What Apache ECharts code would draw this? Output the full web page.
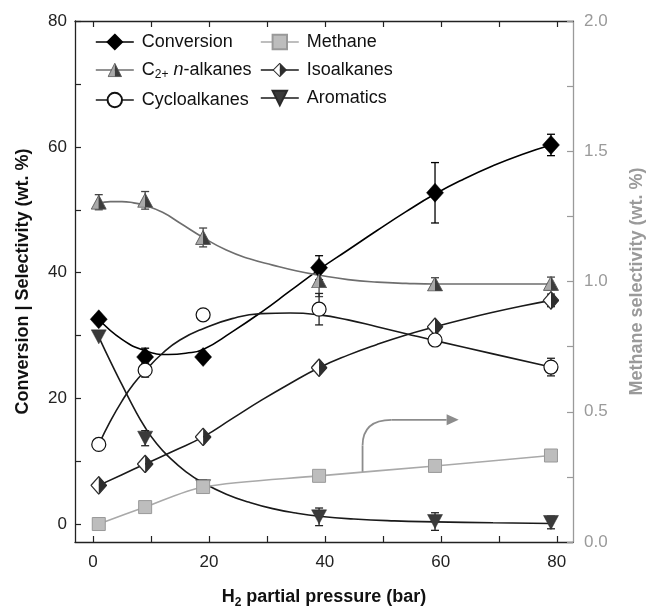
<!DOCTYPE html>
<html>
<head>
<meta charset="utf-8">
<script src="https://cdn.jsdelivr.net/npm/echarts@6/dist/echarts.min.js"></script>
<style>html,body{margin:0;padding:0;background:#fff;}#c{width:654px;height:614px;}</style>
</head>
<body>
<div id="c"></div>
<script>
// ---- data ----
const pressures = [1, 9, 19, 39, 59, 79];
const conversion = [32.6, 26.6, 26.6, 40.8, 52.7, 60.3];
const conversionErr = [0, 1.4, 0, 1.9, 4.8, 1.7];
const nAlkanes = [51.2, 51.5, 45.6, 38.7, 38.2, 38.3];
const nAlkanesErr = [1.2, 1.4, 1.5, 2.5, 1.0, 1.0];
const isoalkanes = [6.2, 9.6, 13.9, 24.9, 31.4, 35.6];
const isoalkanesErr = [0, 0, 0, 0, 0, 1.0];
const cycloalkanes = [12.7, 24.5, 33.3, 34.2, 29.3, 25.0];
const cycloalkanesErr = [0, 1.1, 0, 2.5, 0, 1.4];
const aromatics = [29.8, 13.7, 6.0, 1.2, 0.45, 0.3];
const aromaticsErr = [0, 1.2, 1.0, 1.4, 1.4, 1.0];
const methane = [0.069, 0.134, 0.211, 0.254, 0.292, 0.332];

// fitted guide curves
const conversionFit = [[1,32.6],[5,29.4],[9,27.6],[13,27.0],[16,27.2],[19,27.8],[24,30.6],[29,33.7],[34,37.1],[39,40.5],[44,43.6],[49,46.7],[54,49.7],[59,52.5],[64,54.9],[69,57.0],[74,58.8],[79,60.3]];
const nAlkanesFit = [[1,51.0],[3,51.3],[5,51.3],[7,51.1],[9,50.7],[12,49.6],[15,47.9],[19,45.6],[23,43.6],[27,42.2],[31,41.2],[35,40.3],[39,39.6],[44,38.9],[49,38.5],[54,38.3],[59,38.2],[69,38.2],[79,38.2]];
const isoalkanesFit = [[1,6.2],[5,7.9],[9,9.6],[14,11.7],[19,13.9],[24,16.8],[29,19.7],[34,22.4],[39,24.9],[44,26.9],[49,28.6],[54,30.1],[59,31.4],[64,32.6],[69,33.7],[74,34.7],[79,35.6]];
const cycloalkanesFit = [[1,12.7],[3,16.4],[5,19.6],[7,22.3],[9,24.4],[12,27.2],[15,29.3],[19,31.1],[24,32.7],[29,33.5],[34,33.6],[39,33.3],[44,32.5],[49,31.4],[54,30.3],[59,29.2],[69,27.1],[79,25.0]];
const aromaticsFit = [[1,29.8],[3,25.9],[5,22.2],[7,18.6],[9,15.4],[11,12.8],[13,10.8],[16,8.4],[19,6.6],[23,4.8],[27,3.5],[31,2.5],[35,1.8],[39,1.3],[45,0.85],[52,0.55],[59,0.4],[69,0.25],[79,0.15]];

const xTickValues = [0, 10, 20, 30, 40, 50, 60, 70, 80];
const xLabelValues = [0, 20, 40, 60, 80];
const yTickValues = [0, 10, 20, 30, 40, 50, 60, 70, 80];
const yLabelValues = [0, 20, 40, 60, 80];
const y2TickValues = [0, 0.25, 0.5, 0.75, 1.0, 1.25, 1.5, 1.75, 2.0];
const y2LabelValues = [0, 0.5, 1.0, 1.5, 2.0];

// ---- styling ----
const FONT = '"Liberation Sans", Arial, sans-serif';
const svgUri = s => 'image://data:image/svg+xml;charset=utf-8,' + encodeURIComponent(s);
const triHalf = svgUri('<svg xmlns="http://www.w3.org/2000/svg" width="32" height="30" viewBox="0 0 32 30"><polygon points="16,1 1,29 16,29" fill="#a9a9a9"/><polygon points="16,1 31,29 16,29" fill="#3c3c3c"/><polygon points="16,1 1,29 31,29" fill="none" stroke="#555" stroke-width="1.8"/></svg>');
const diaHalf = svgUri('<svg xmlns="http://www.w3.org/2000/svg" width="34" height="38" viewBox="0 0 34 38"><polygon points="17,1.5 1.5,19 17,36.5" fill="#fff"/><polygon points="17,1.5 32.5,19 17,36.5" fill="#2e2e2e"/><polygon points="17,1.5 1.5,19 17,36.5 32.5,19" fill="none" stroke="#2e2e2e" stroke-width="2.6"/></svg>');

const pts = arr => pressures.map((x, i) => [x, arr[i]]);
const errData = (vals, errs) => pressures.map((x, i) => [x, vals[i] - errs[i], vals[i] + errs[i], errs[i]]).filter(d => d[3] > 0);

function errSeries(name, vals, errs, color) {
  return {
    name: name, type: 'custom', xAxisIndex: 0, yAxisIndex: 0, z: 3, silent: true,
    data: errData(vals, errs),
    renderItem: function (params, api) {
      const x = api.value(0), lo = api.value(1), hi = api.value(2);
      const a = api.coord([x, hi]), b = api.coord([x, lo]);
      const w = 4;
      const st = { stroke: color, lineWidth: 1.3 };
      return { type: 'group', children: [
        { type: 'line', shape: { x1: a[0], y1: a[1], x2: b[0], y2: b[1] }, style: st },
        { type: 'line', shape: { x1: a[0] - w, y1: a[1], x2: a[0] + w, y2: a[1] }, style: st },
        { type: 'line', shape: { x1: b[0] - w, y1: b[1], x2: b[0] + w, y2: b[1] }, style: st }
      ] };
    }
  };
}
function fitSeries(name, data, color, yIdx) {
  return { name: name, type: 'line', xAxisIndex: 0, yAxisIndex: yIdx || 0, data: data, smooth: 0.5,
    showSymbol: false, symbol: 'none', silent: true, z: 2,
    lineStyle: { color: color, width: 1.6 } };
}
function markSeries(name, data, symbol, size, itemStyle, yIdx, rotate, z) {
  return { name: name, type: 'line', xAxisIndex: 0, yAxisIndex: yIdx || 0, data: data,
    symbol: symbol, symbolSize: size, symbolRotate: rotate || 0, showSymbol: true, z: z || 5,
    lineStyle: { width: 0, opacity: 0 }, itemStyle: itemStyle, emphasis: { disabled: true } };
}

const chart = echarts.init(document.getElementById('c'));
const legendText = {
  fontFamily: FONT, fontSize: 18, color: '#111', padding: [0, 0, 0, 3],
  rich: {
    a: { fontFamily: FONT, fontSize: 18, color: '#111', lineHeight: 22, verticalAlign: 'middle' },
    s: { fontFamily: FONT, fontSize: 12, color: '#111', lineHeight: 22, verticalAlign: 'bottom' },
    i: { fontFamily: FONT, fontSize: 18, fontStyle: 'italic', color: '#111', lineHeight: 22, verticalAlign: 'middle' }
  }
};
const legendFmt = n => n === 'C2+ n-alkanes' ? '{a|C}{s|2+}{a| }{i|n}{a|-alkanes}' : '{a|' + n + '}';

chart.setOption({
  animation: false,
  backgroundColor: '#fff',
  grid: { left: 75, right: 74, top: 21, bottom: 63 },
  legend: [
    { orient: 'vertical', left: 95, top: 33, padding: 0, itemWidth: 38, itemHeight: 18, itemGap: 10,
      formatter: legendFmt, textStyle: legendText, selectedMode: false,
      data: [
        { name: 'Conversion', lineStyle: { color: '#000', width: 1.6, opacity: 1 } },
        { name: 'C2+ n-alkanes', lineStyle: { color: '#6e6e6e', width: 1.6, opacity: 1 } },
        { name: 'Cycloalkanes', lineStyle: { color: '#1a1a1a', width: 1.6, opacity: 1 } }
      ] },
    { orient: 'vertical', left: 260, top: 33, padding: 0, itemWidth: 38, itemHeight: 18, itemGap: 10,
      formatter: legendFmt, textStyle: legendText, selectedMode: false,
      data: [
        { name: 'Methane', lineStyle: { color: '#a9a9a9', width: 1.6, opacity: 1 } },
        { name: 'Isoalkanes', lineStyle: { color: '#1a1a1a', width: 1.6, opacity: 1 } },
        { name: 'Aromatics', lineStyle: { color: '#1a1a1a', width: 1.6, opacity: 1 } }
      ] }
  ],
  xAxis: [
    { type: 'value', position: 'bottom', min: -3.1, max: 82.8,
      axisLine: { show: true, onZero: false, lineStyle: { color: '#222', width: 1.3 } },
      axisTick: { show: true, inside: true, length: 6, customValues: xTickValues, lineStyle: { color: '#222', width: 1.2 } },
      axisLabel: { customValues: xLabelValues, fontFamily: FONT, fontSize: 17, color: '#222', margin: 12 },
      splitLine: { show: false },
      name: '{b|H}{s|2}{b| partial pressure (bar)}', nameLocation: 'middle', nameGap: 43,
      nameTextStyle: { rich: {
        b: { fontFamily: FONT, fontSize: 18, fontWeight: 'bold', color: '#111', lineHeight: 24, verticalAlign: 'middle' },
        s: { fontFamily: FONT, fontSize: 12, fontWeight: 'bold', color: '#111', lineHeight: 24, verticalAlign: 'bottom' } } } },
    { type: 'value', position: 'top', min: -3.1, max: 82.8,
      axisLine: { show: true, onZero: false, lineStyle: { color: '#222', width: 1.3 } },
      axisTick: { show: true, inside: true, length: 6, customValues: xTickValues, lineStyle: { color: '#222', width: 1.2 } },
      axisLabel: { show: false }, splitLine: { show: false } }
  ],
  yAxis: [
    { type: 'value', position: 'left', min: -2.8, max: 80,
      axisLine: { show: true, onZero: false, lineStyle: { color: '#222', width: 1.3 } },
      axisTick: { show: true, inside: true, length: 6, customValues: yTickValues, lineStyle: { color: '#222', width: 1.2 } },
      axisLabel: { customValues: yLabelValues, fontFamily: FONT, fontSize: 17, color: '#222', margin: 8 },
      splitLine: { show: false },
      name: 'Conversion | Selectivity (wt. %)', nameLocation: 'middle', nameGap: 43,
      nameTextStyle: { fontFamily: FONT, fontSize: 18, fontWeight: 'bold', color: '#111' } },
    { type: 'value', position: 'right', min: 0, max: 2,
      axisLine: { show: true, onZero: false, lineStyle: { color: '#9a9a9a', width: 1.3 } },
      axisTick: { show: true, inside: true, length: 6, customValues: y2TickValues, lineStyle: { color: '#9a9a9a', width: 1.2 } },
      axisLabel: { customValues: y2LabelValues, fontFamily: FONT, fontSize: 17, color: '#9a9a9a', margin: 11, formatter: v => v.toFixed(1) },
      splitLine: { show: false },
      name: 'Methane selectivity (wt. %)', nameLocation: 'middle', nameGap: 55, nameRotate: 90,
      nameTextStyle: { fontFamily: FONT, fontSize: 18, fontWeight: 'bold', color: '#9a9a9a' } }
  ],
  series: [
    fitSeries('convFit', conversionFit, '#000'),
    fitSeries('nalkFit', nAlkanesFit, '#6e6e6e'),
    fitSeries('isoFit', isoalkanesFit, '#1a1a1a'),
    fitSeries('cycloFit', cycloalkanesFit, '#1a1a1a'),
    fitSeries('aroFit', aromaticsFit, '#1a1a1a'),
    { name: 'methFit', type: 'line', xAxisIndex: 0, yAxisIndex: 1, data: pts(methane), smooth: 0.3,
      symbol: 'none', silent: true, z: 2, lineStyle: { color: '#a9a9a9', width: 1.6 } },
    errSeries('convErr', conversion, conversionErr, '#000'),
    errSeries('nalkErr', nAlkanes, nAlkanesErr, '#444'),
    errSeries('isoErr', isoalkanes, isoalkanesErr, '#222'),
    errSeries('cycloErr', cycloalkanes, cycloalkanesErr, '#222'),
    errSeries('aroErr', aromatics, aromaticsErr, '#222'),
    markSeries('Conversion', pts(conversion), 'diamond', [17, 19], { color: '#000', borderColor: '#000', borderWidth: 0.5 }),
    markSeries('Methane', pts(methane), 'rect', 13, { color: '#bdbdbd', borderColor: '#999', borderWidth: 1 }, 1, 0, 7),
    markSeries('C2+ n-alkanes', pts(nAlkanes), triHalf, [16, 15], { color: '#888' }),
    markSeries('Isoalkanes', pts(isoalkanes), diaHalf, [17, 19], { color: '#333' }),
    markSeries('Cycloalkanes', pts(cycloalkanes), 'circle', 14, { color: '#fff', borderColor: '#111', borderWidth: 1.2 }),
    markSeries('Aromatics', pts(aromatics), 'triangle', [15, 14], { color: '#3a3a3a', borderColor: '#2a2a2a', borderWidth: 0.5 }, 0, 180)
  ]
});

// annotation arrow pointing to the methane (right) axis
function drawArrow() {
  const P = p => chart.convertToPixel({ xAxisIndex: 0, yAxisIndex: 1 }, p);
  const s = P([46.5, 0.27]), u = P([46.5, 0.37]), c = P([46.5, 0.469]), e = P([51.5, 0.469]), h = P([61.0, 0.469]), t = P([63.0, 0.469]);
  const col = '#8c8c8c';
  chart.setOption({ graphic: [
    { type: 'line', shape: { x1: s[0], y1: s[1], x2: u[0], y2: u[1] }, style: { stroke: col, lineWidth: 1.8 }, z: 10 },
    { type: 'bezierCurve', shape: { x1: u[0], y1: u[1], x2: e[0], y2: e[1], cpx1: c[0], cpy1: c[1] }, style: { stroke: col, lineWidth: 1.8, fill: null }, z: 10 },
    { type: 'line', shape: { x1: e[0], y1: e[1], x2: h[0], y2: h[1] }, style: { stroke: col, lineWidth: 1.8 }, z: 10 },
    { type: 'polygon', shape: { points: [[h[0], h[1] - 5.5], [t[0] + 0.5, t[1]], [h[0], h[1] + 5.5]] }, style: { fill: col }, z: 10 }
  ] });
}
drawArrow();
</script>
</body>
</html>
